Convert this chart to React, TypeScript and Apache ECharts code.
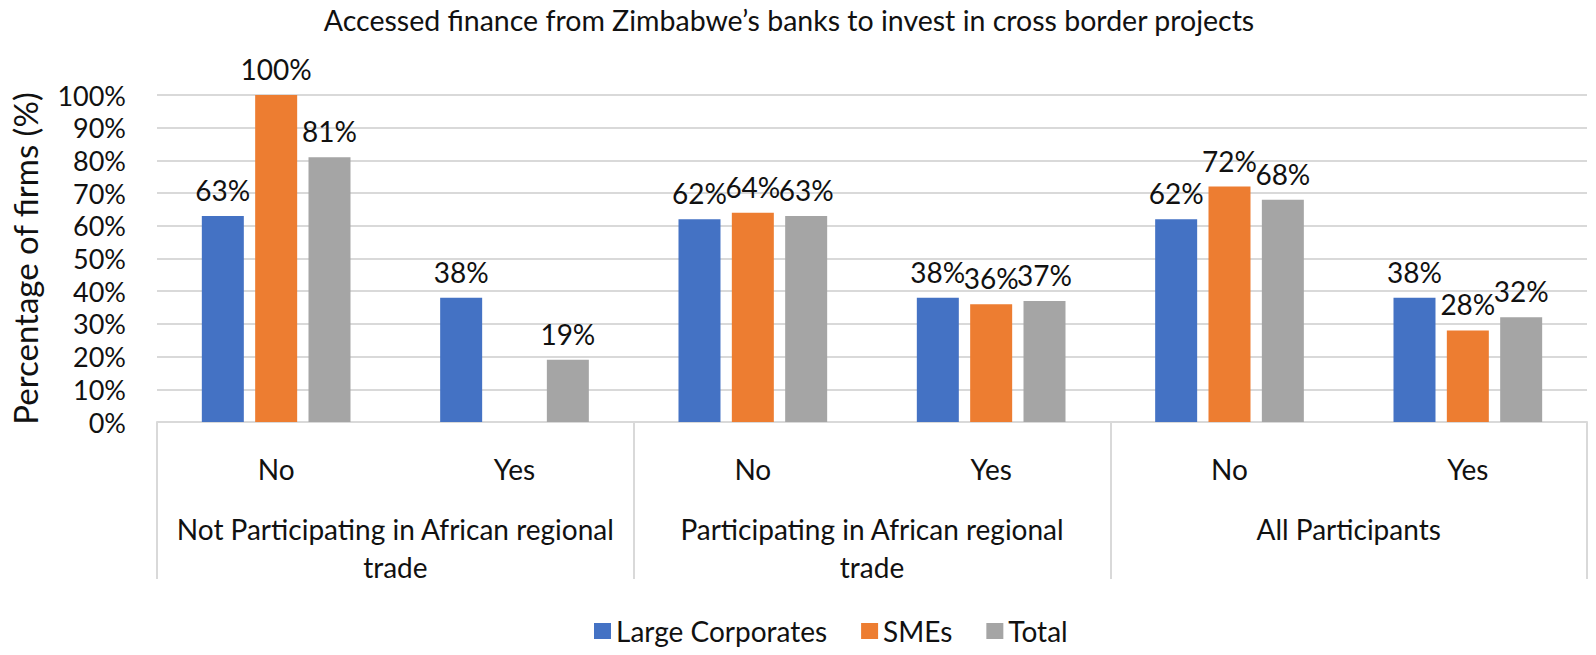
import React, { useEffect, useRef } from "react";
import * as echarts from "echarts";

const subCategories = ["No", "Yes", "No", "Yes", "No", "Yes"];
const groupCategories = [
  "Not Participating in African regional\ntrade",
  "Participating in African regional\ntrade",
  "All Participants",
];
const largeCorporates = [63, 38, 62, 38, 62, 38];
const smes = [100, null, 64, 36, 72, 28];
const total = [81, 19, 63, 37, 68, 32];
const seriesNames = ["Large Corporates", "SMEs", "Total"];
const colors = ["#4472C4", "#ED7D31", "#A5A5A5"];
const titleText = "Accessed finance from Zimbabwe\u2019s banks to invest in cross border projects";
const yAxisName = "Percentage of firms (%)";

const FONT = "Lato, 'Open Sans', sans-serif";
const TXT = "#111111";
const GRID = "#d9d9d9";

export default function App() {
  const ref = useRef<HTMLDivElement>(null);
  useEffect(() => {
    if (!ref.current) return;
    const chart = echarts.init(ref.current, null, { renderer: "svg" });
    const label = {
      show: true,
      position: "top",
      distance: 12,
      formatter: "{c}%",
      fontSize: 28,
      fontFamily: FONT,
      color: TXT,
    };
    const datasets = [largeCorporates, smes, total];
    chart.setOption({
      animation: false,
      textStyle: { fontFamily: FONT },
      title: {
        text: titleText,
        left: 784,
        textAlign: "center",
        top: 0,
        textStyle: { fontSize: 28.5, fontWeight: "normal", color: TXT, fontFamily: FONT },
      },
      legend: {
        top: 612,
        left: 589,
        itemWidth: 17,
        itemHeight: 16,
        itemGap: 34,
        icon: "rect",
        textStyle: { fontSize: 28, color: TXT, fontFamily: FONT },
        data: seriesNames,
      },
      grid: { left: 142, right: 9, top: 95, bottom: 233, containLabel: false },
      xAxis: [
        {
          type: "category",
          data: subCategories,
          axisLine: { show: true, lineStyle: { color: GRID, width: 2 } },
          axisTick: { show: false },
          axisLabel: {
            interval: 0,
            fontSize: 28,
            color: TXT,
            fontFamily: FONT,
            margin: 31,
            lineHeight: 32,
          },
        },
        {
          type: "category",
          data: groupCategories,
          position: "bottom",
          axisLine: { show: false },
          axisTick: { show: true, interval: 0, length: 157, lineStyle: { color: GRID, width: 2 } },
          axisLabel: {
            interval: 0,
            hideOverlap: false,
            fontSize: 28,
            color: TXT,
            fontFamily: FONT,
            margin: 88,
            lineHeight: 38,
            align: "center",
          },
        },
      ],
      yAxis: {
        type: "value",
        min: 0,
        max: 100,
        interval: 10,
        name: yAxisName,
        nameLocation: "middle",
        nameGap: 116,
        nameTextStyle: { fontSize: 33, color: TXT, fontFamily: FONT },
        axisLine: { show: false },
        axisTick: { show: false },
        axisLabel: { formatter: "{value}%", fontSize: 27, color: TXT, fontFamily: FONT, margin: 31 },
        splitLine: { lineStyle: { color: GRID, width: 2 } },
      },
      series: seriesNames.map((name, i) => ({
        name,
        type: "bar",
        xAxisIndex: 0,
        data: datasets[i],
        barWidth: 42,
        barGap: "27%",
        itemStyle: { color: colors[i] },
        label,
      })),
    });
    return () => chart.dispose();
  }, []);
  return (
    <div
      ref={ref}
      style={{ position: "fixed", left: 0, top: 0, width: 1596, height: 655, background: "#fff" }}
    />
  );
}
